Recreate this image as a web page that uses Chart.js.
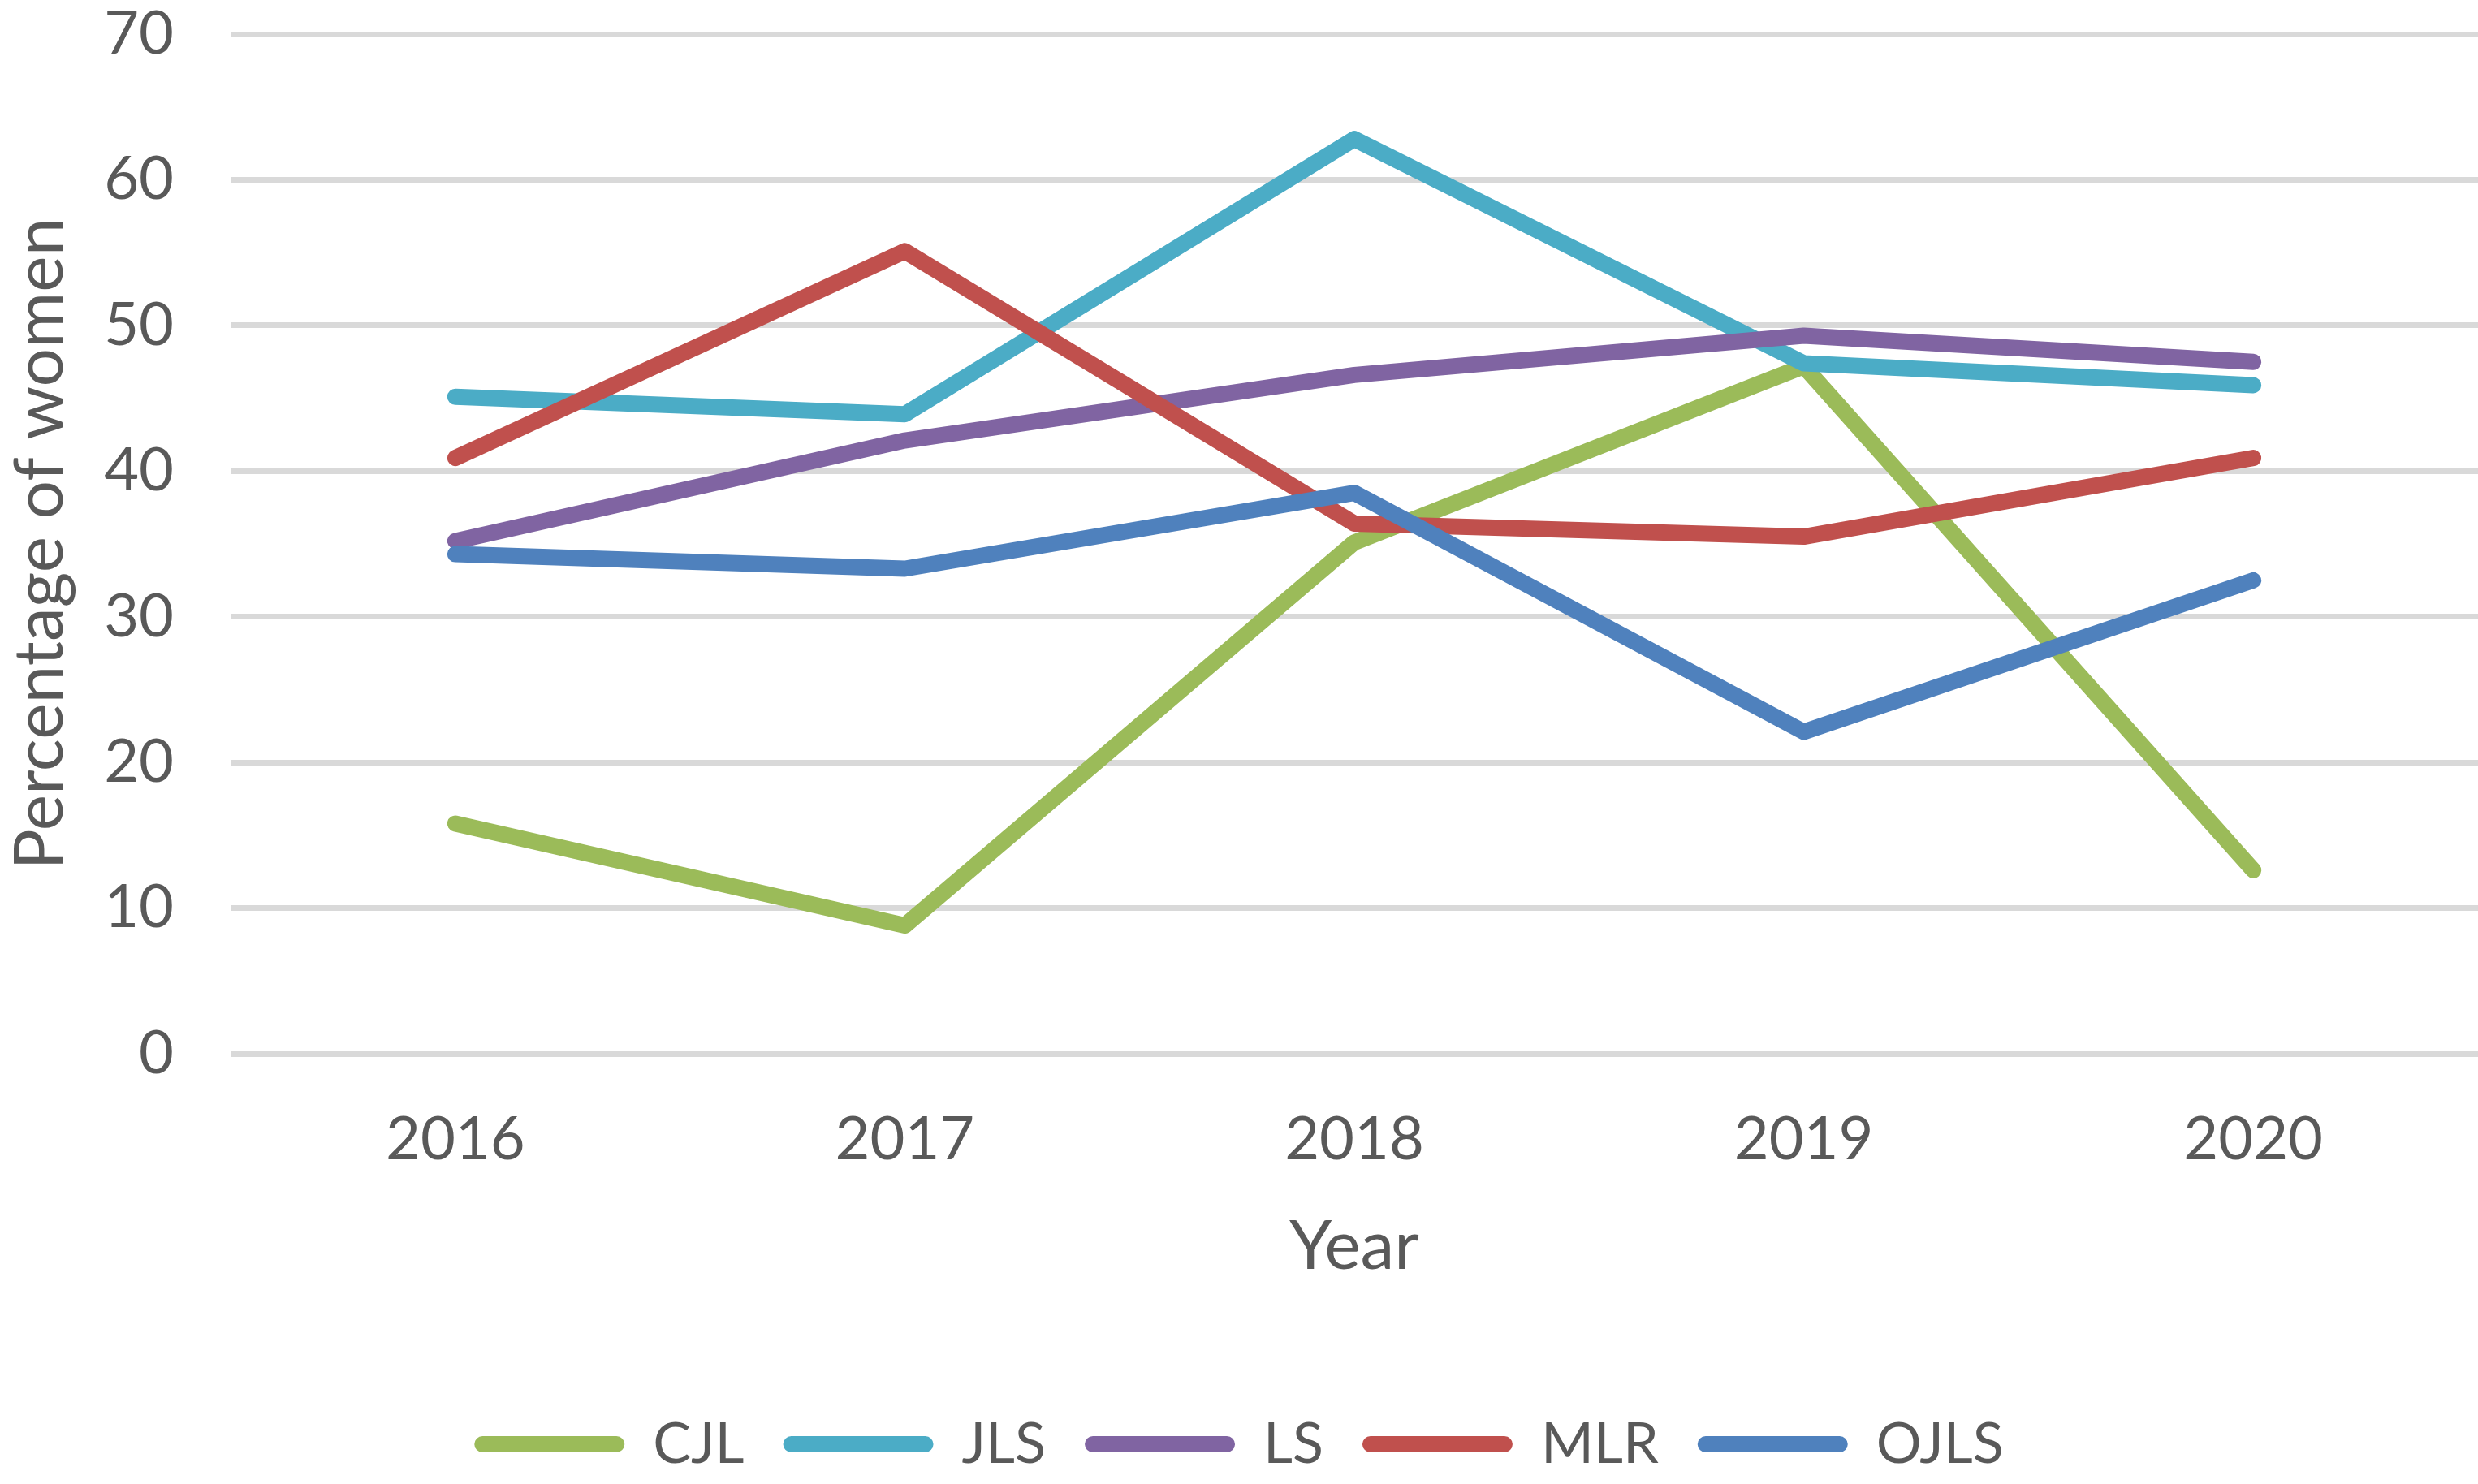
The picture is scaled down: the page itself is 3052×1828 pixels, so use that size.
<!DOCTYPE html>
<html>
<head>
<meta charset="utf-8">
<script src="https://cdn.jsdelivr.net/npm/chart.js@4.4.1/dist/chart.umd.min.js"></script>
<style>
  html, body { margin: 0; padding: 0; background: #fff; }
  #wrap { width: 3052px; height: 1828px; }
</style>
</head>
<body>
<div id="wrap"><canvas id="chart"></canvas></div>
<script>
// Data
const years = ['2016', '2017', '2018', '2019', '2020'];
const cjl  = [15.8, 8.8, 35.1, 47.2, 12.6];
const jls  = [45.1, 43.9, 62.8, 47.4, 45.9];
const ls   = [35.2, 42.1, 46.6, 49.3, 47.5];
const mlr  = [40.9, 55.1, 36.4, 35.5, 40.9];
const ojls = [34.3, 33.3, 38.5, 22.1, 32.5];

const seriesNames = ['CJL', 'JLS', 'LS', 'MLR', 'OJLS'];
const seriesColors = ['#9BBB59', '#4BACC6', '#8064A2', '#C0504D', '#4F81BD'];
const seriesValues = [cjl, jls, ls, mlr, ojls];

const textColor = '#595959';
const fontFamily = 'Lato, "Liberation Sans", sans-serif';

const datasets = seriesNames.map((name, i) => ({
    label: name,
    data: seriesValues[i],
    borderColor: seriesColors[i],
    backgroundColor: seriesColors[i],
    borderWidth: 20,
    borderCapStyle: 'round',
    borderJoinStyle: 'round',
    pointRadius: 0,
    tension: 0,
    order: seriesNames.length - i   // later series drawn on top
}));

new Chart(document.getElementById('chart'), {
    type: 'line',
    data: { labels: years, datasets },
    options: {
        responsive: true,
        maintainAspectRatio: false,
        animation: false,
        layout: { padding: { top: 0, right: 0, bottom: 4, left: 0 } },
        plugins: {
            tooltip: { enabled: false },
            legend: {
                position: 'bottom',
                labels: {
                    color: textColor,
                    font: { family: fontFamily, size: 70 },
                    boxWidth: 185,
                    boxHeight: 20,
                    useBorderRadius: true,
                    borderRadius: 10,
                    padding: 48,
                    sort: (a, b) => a.datasetIndex - b.datasetIndex,
                    generateLabels: (chart) =>
                        Chart.defaults.plugins.legend.labels.generateLabels(chart)
                            .map(l => ({ ...l, lineWidth: 0 }))
                }
            }
        },
        scales: {
            x: {
                offset: true,
                grid: { display: false },
                border: { display: false },
                ticks: {
                    color: textColor,
                    font: { family: fontFamily, size: 74 },
                    padding: 54
                },
                title: {
                    display: true,
                    text: 'Year',
                    color: textColor,
                    font: { family: fontFamily, size: 84, lineHeight: 0.8 },
                    padding: { top: 0, bottom: 126 }
                }
            },
            y: {
                min: 0,
                max: 70,
                afterFit: (scale) => {
                    scale.width = 284;
                    // keep the tick padding from pushing the plot down
                    scale.paddingTop = 42;
                    scale.paddingBottom = 0;
                },
                ticks: {
                    stepSize: 10,
                    color: textColor,
                    font: { family: fontFamily, size: 74 },
                    padding: 70
                },
                grid: {
                    color: '#D9D9D9',
                    lineWidth: 7,
                    drawTicks: false
                },
                border: { display: false },
                title: {
                    display: true,
                    text: 'Percentage of women',
                    color: textColor,
                    font: { family: fontFamily, size: 84 },
                    padding: { top: 0, bottom: 0 }
                }
            }
        }
    }
});
</script>
</body>
</html>
